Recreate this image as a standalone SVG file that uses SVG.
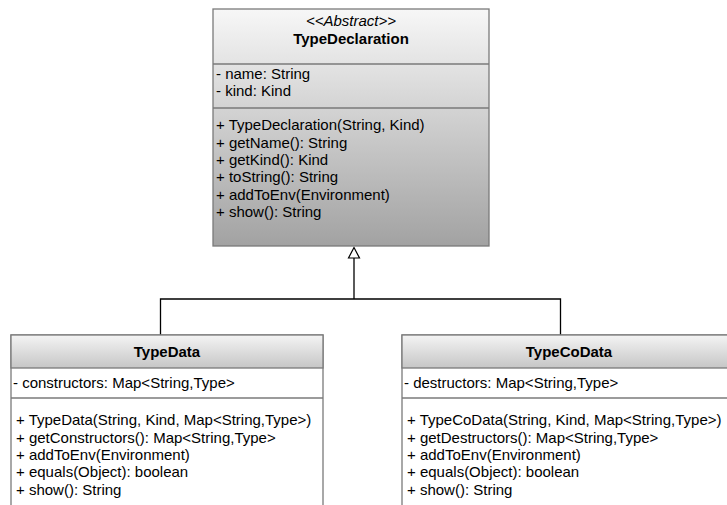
<svg xmlns="http://www.w3.org/2000/svg" width="727" height="505" viewBox="0 0 727 505">
<defs>
<linearGradient id="gTop" x1="0" y1="0" x2="0" y2="1">
<stop offset="0" stop-color="#f7f7f7"/>
<stop offset="1" stop-color="#a2a2a2"/>
</linearGradient>
<linearGradient id="gHead" x1="0" y1="0" x2="0" y2="1">
<stop offset="0" stop-color="#f4f4f4"/>
<stop offset="1" stop-color="#c6c6c6"/>
</linearGradient>
</defs>
<style>
.box{stroke:#7a7a7a;stroke-width:1.3}
.div{stroke:#7a7a7a;stroke-width:1.3}
text{font-family:"Liberation Sans",Arial,sans-serif;font-size:15px;fill:#000}
.b{font-weight:bold}
.i{font-style:italic}
.c{text-anchor:middle}
.conn{fill:none;stroke:#000;stroke-width:1.3}
.head{fill:#ffffff;stroke:#000;stroke-width:1.2}
</style>
<rect width="727" height="505" fill="#ffffff"/>
<g id="connectors">
<path class="conn" d="M160.5,335 V299 H560.5 V335"/>
<path class="conn" d="M354,299 V258"/>
<polygon class="head" points="354,247.5 348.5,258 359.5,258"/>
</g>
<g id="TypeDeclaration">
<rect class="box" x="213" y="9" width="276" height="237" fill="url(#gTop)"/>
<line class="div" x1="213" y1="64" x2="489" y2="64"/>
<line class="div" x1="213" y1="108" x2="489" y2="108"/>
<text class="c i" x="351" y="26">&lt;&lt;Abstract&gt;&gt;</text>
<text class="c b" x="351" y="44">TypeDeclaration</text>
<text x="216" y="79">- name: String</text>
<text x="216" y="96">- kind: Kind</text>
<text x="216" y="130">+ TypeDeclaration(String, Kind)</text>
<text x="216" y="147.5">+ getName(): String</text>
<text x="216" y="165">+ getKind(): Kind</text>
<text x="216" y="182">+ toString(): String</text>
<text x="216" y="199.5">+ addToEnv(Environment)</text>
<text x="216" y="217">+ show(): String</text>
</g>
<g id="TypeData">
<rect class="box" x="11" y="335" width="312" height="180" fill="#ffffff"/>
<rect class="box" x="11" y="335" width="312" height="33" fill="url(#gHead)"/>
<line class="div" x1="11" y1="398" x2="323" y2="398"/>
<text class="c b" x="167" y="357">TypeData</text>
<text x="13" y="388">- constructors: Map&lt;String,Type&gt;</text>
<text x="16" y="425">+ TypeData(String, Kind, Map&lt;String,Type&gt;)</text>
<text x="16" y="442.5">+ getConstructors(): Map&lt;String,Type&gt;</text>
<text x="16" y="460">+ addToEnv(Environment)</text>
<text x="16" y="477">+ equals(Object): boolean</text>
<text x="16" y="494.5">+ show(): String</text>
</g>
<g id="TypeCoData">
<rect class="box" x="402" y="335" width="334" height="180" fill="#ffffff"/>
<rect class="box" x="402" y="335" width="334" height="33" fill="url(#gHead)"/>
<line class="div" x1="402" y1="398" x2="736" y2="398"/>
<text class="c b" x="569" y="357">TypeCoData</text>
<text x="404" y="388">- destructors: Map&lt;String,Type&gt;</text>
<text x="407" y="425">+ TypeCoData(String, Kind, Map&lt;String,Type&gt;)</text>
<text x="407" y="442.5">+ getDestructors(): Map&lt;String,Type&gt;</text>
<text x="407" y="460">+ addToEnv(Environment)</text>
<text x="407" y="477">+ equals(Object): boolean</text>
<text x="407" y="494.5">+ show(): String</text>
</g>
</svg>
